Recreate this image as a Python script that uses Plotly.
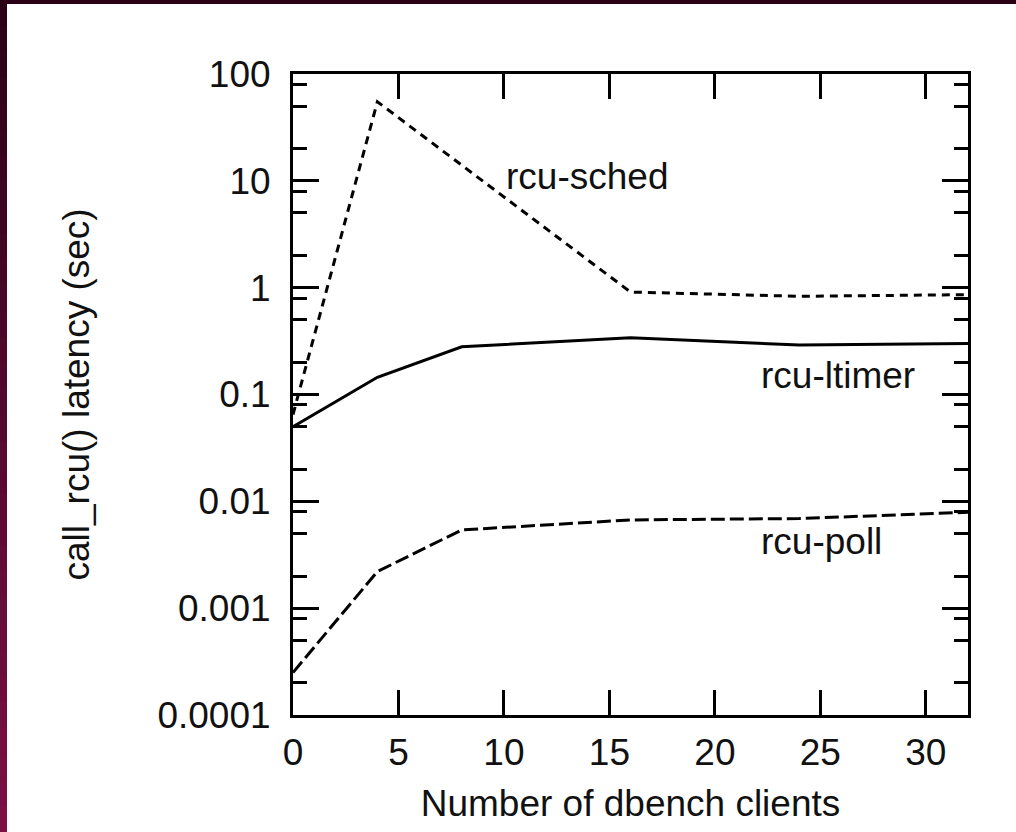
import math
import plotly.graph_objects as go

# ---- data ----
clients = [0, 4, 8, 16, 24, 32]
rcu_sched = [0.065, 55, 14, 0.91, 0.83, 0.86]
rcu_ltimer = [0.05, 0.145, 0.28, 0.34, 0.29, 0.30]
rcu_poll = [0.00025, 0.0022, 0.0054, 0.0067, 0.0069, 0.0079]

x_ticks = [0, 5, 10, 15, 20, 25, 30]
y_ticks = [1e-4, 1e-3, 1e-2, 1e-1, 1, 10, 100]
y_ticktext = ["0.0001", "0.001", "0.01", "0.1", "1", "10", "100"]
y_minor = [m * 10 ** e for e in range(-4, 2) for m in (2, 5, 8)]

label_names = ["rcu-sched", "rcu-ltimer", "rcu-poll"]
label_x = [10.0, 22.1, 22.1]
label_y = [11, 0.15, 0.0042]

x_title = "Number of dbench clients"
y_title = "call_rcu() latency (sec)"

FONT = "Liberation Sans, Arial, Helvetica, sans-serif"
FS = 37
INK = "#111111"

fig = go.Figure()
fig.add_trace(go.Scatter(x=clients, y=rcu_sched, mode="lines", name=label_names[0],
                         line=dict(color="black", width=3, dash="8px,6px")))
fig.add_trace(go.Scatter(x=clients, y=rcu_ltimer, mode="lines", name=label_names[1],
                         line=dict(color="black", width=3)))
fig.add_trace(go.Scatter(x=clients, y=rcu_poll, mode="lines", name=label_names[2],
                         line=dict(color="black", width=3, dash="14px,5px")))

W, H = 1016, 832
L, R, T, B = 293, 48, 74, 117
pw, ph = W - L - R, H - T - B


def px2paper(x, y):
    return (x - L) / pw, 1 - (y - T) / ph


shapes = []
# top dark strip
x0, y0 = px2paper(0, 0)
x1, y1 = px2paper(W, 4)
shapes.append(dict(type="rect", xref="paper", yref="paper", x0=x0, x1=x1, y0=y1, y1=y0,
                   fillcolor="#2a0016", line=dict(width=0), layer="below"))
# left gradient strip
c0 = (0x2a, 0x00, 0x16)
c1 = (0x7c, 0x10, 0x44)
n = 32
for i in range(n):
    t = (i + 0.5) / n
    col = "rgb(%d,%d,%d)" % tuple(round(a + (b - a) * t) for a, b in zip(c0, c1))
    ya = H * i / n
    yb = H * (i + 1) / n + 1
    xa, pya = px2paper(0, ya)
    xb, pyb = px2paper(7, yb)
    shapes.append(dict(type="rect", xref="paper", yref="paper", x0=xa, x1=xb, y0=pyb, y1=pya,
                       fillcolor=col, line=dict(width=0), layer="below"))

annotations = []
for name, ax, ay in zip(label_names, label_x, label_y):
    annotations.append(dict(x=ax, y=math.log10(ay), text=name, showarrow=False,
                            xanchor="left", yanchor="middle", xref="x", yref="y",
                            font=dict(family=FONT, size=FS, color=INK)))
# y-axis title placed as rotated annotation
ytx, _ = px2paper(76, 0)
annotations.append(dict(x=ytx, y=0.5, xref="paper", yref="paper", text=y_title,
                        textangle=-90, showarrow=False, xanchor="center", yanchor="middle",
                        font=dict(family=FONT, size=FS, color=INK)))

fig.update_layout(
    width=W, height=H,
    margin=dict(l=L, r=R, t=T, b=B),
    paper_bgcolor="white", plot_bgcolor="white",
    showlegend=False,
    shapes=shapes,
    annotations=annotations,
    font=dict(family=FONT, size=FS, color=INK),
)
fig.update_xaxes(
    range=[0, 32], tickvals=x_ticks, ticks="inside", ticklen=25, tickwidth=3,
    tickcolor="black", showline=True, linewidth=3, linecolor="black", mirror="ticks",
    showgrid=False, zeroline=False,
    tickfont=dict(family=FONT, size=FS, color=INK), ticklabelstandoff=3,
    title=dict(text=x_title, font=dict(family=FONT, size=FS, color=INK), standoff=18),
)
fig.update_yaxes(
    type="log", range=[-4, 2], tickvals=y_ticks, ticktext=y_ticktext,
    ticks="inside", ticklen=26, tickwidth=3, tickcolor="black",
    showline=True, linewidth=3, linecolor="black", mirror="ticks",
    showgrid=False, zeroline=False,
    minor=dict(tickvals=y_minor, ticks="inside", ticklen=14, tickwidth=3, tickcolor="black",
               showgrid=False),
    tickfont=dict(family=FONT, size=FS, color=INK), ticklabelstandoff=12,
)

fig.write_html("out.html", config={"displayModeBar": False},
               post_script="document.body.style.margin='0';")
